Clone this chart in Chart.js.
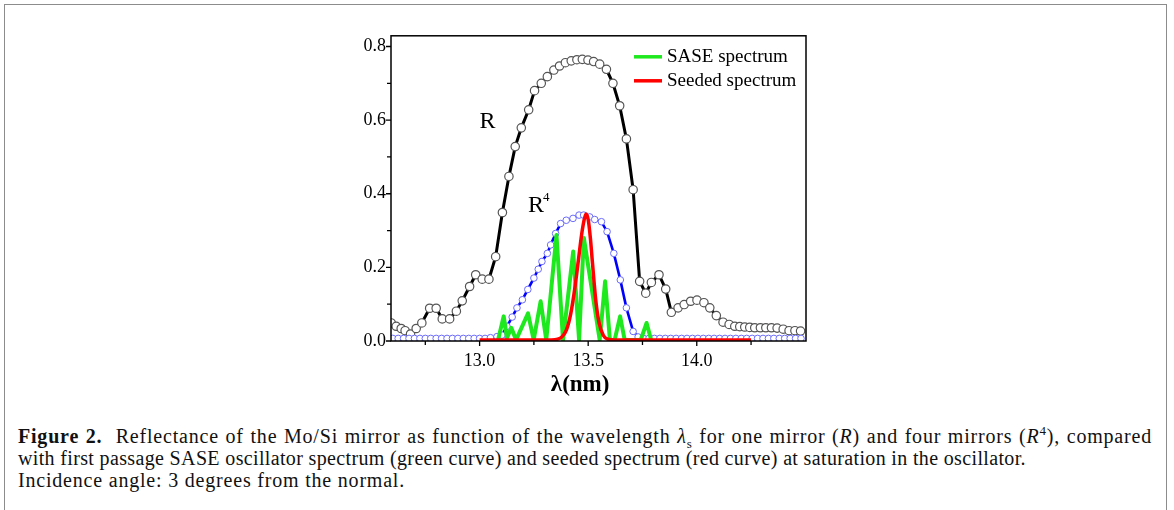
<!DOCTYPE html>
<html>
<head>
<meta charset="utf-8">
<script src="https://cdn.jsdelivr.net/npm/chart.js@4.4.1/dist/chart.umd.min.js"></script>
<style>
    html, body { margin: 0; padding: 0; background: #fff; }
    body { width: 1174px; height: 510px; overflow: hidden; position: relative; }
    #frame {
        position: absolute; left: 4px; top: 4px; width: 1161px; height: 600px;
        border: 1.5px solid #8c8c8c;
    }
    #plot { position: absolute; left: 330px; top: 20px; width: 500px; height: 385px; }
    #caption {
        position: absolute; left: 18px; top: 425px; width: 1134px;
        font-family: 'Liberation Serif', 'Times New Roman', serif;
        font-size: 20px; line-height: 22px; letter-spacing: 0.8px;
        color: #111;
    }
    #caption div { white-space: nowrap; }
    #caption .full { text-align: justify; text-align-last: justify; white-space: normal; }
    #caption .tight { letter-spacing: 0.35px; }
    #caption sub, #caption sup { font-size: 13px; line-height: 0; }
</style>
</head>
<body>
<div id="frame"></div>
<div id="plot"><canvas id="reflectance-chart"></canvas></div>
<div id="caption">
    <div class="full"><b>Figure 2.</b>&nbsp;&nbsp;Reflectance of the Mo/Si mirror as function of the wavelength <i>λ</i><sub>s</sub> for one mirror (<i>R</i>) and four mirrors (<i>R</i><sup>4</sup>), compared</div>
    <div class="tight">with first passage SASE oscillator spectrum (green curve) and seeded spectrum (red curve) at saturation in the oscillator.</div>
    <div>Incidence angle: 3 degrees from the normal.</div>
</div>

<script>
    'use strict';

    // Reflectance of one mirror (R)
    var rWavelength = [
        12.593, 12.616, 12.639, 12.657, 12.682, 12.708, 12.734, 12.770, 12.800, 12.828,
        12.862, 12.893, 12.920, 12.954, 12.982, 13.012, 13.043, 13.074, 13.105, 13.135,
        13.164, 13.192, 13.226, 13.253, 13.284, 13.312, 13.342, 13.368, 13.395, 13.422,
        13.448, 13.473, 13.499, 13.525, 13.553, 13.584, 13.614, 13.645, 13.676, 13.707,
        13.737, 13.765, 13.791, 13.826, 13.857, 13.883, 13.914, 13.942, 13.972, 14.001,
        14.033, 14.060, 14.090, 14.121, 14.149, 14.175, 14.198, 14.221, 14.244, 14.267,
        14.293, 14.318, 14.344, 14.370, 14.398, 14.425, 14.452, 14.478
    ];
    var rValues = [
        0.049, 0.040, 0.034, 0.028, 0.019, 0.034, 0.049, 0.089, 0.089, 0.060,
        0.060, 0.081, 0.109, 0.148, 0.180, 0.168, 0.168, 0.229, 0.349, 0.447,
        0.528, 0.579, 0.628, 0.680, 0.700, 0.718, 0.736, 0.747, 0.756, 0.761,
        0.764, 0.765, 0.763, 0.759, 0.752, 0.738, 0.700, 0.639, 0.549, 0.411,
        0.162, 0.130, 0.159, 0.180, 0.141, 0.078, 0.090, 0.099, 0.108, 0.111,
        0.104, 0.090, 0.069, 0.051, 0.045, 0.040, 0.039, 0.038, 0.037, 0.036,
        0.036, 0.036, 0.036, 0.035, 0.032, 0.028, 0.028, 0.027
    ];

    // Four mirrors (R^4)
    var r4Wavelength = [
        12.600, 12.625, 12.650, 12.675, 12.700, 12.725, 12.750, 12.775, 12.800, 12.825,
        12.850, 12.875, 12.900, 12.925, 12.950, 12.975, 13.000, 13.025, 13.050, 13.080,
        13.103, 13.126, 13.150, 13.172, 13.197, 13.222, 13.250, 13.270, 13.287, 13.312,
        13.327, 13.350, 13.373, 13.399, 13.430, 13.458, 13.479, 13.507, 13.530, 13.561,
        13.587, 13.618, 13.648, 13.676, 13.707, 13.730, 13.755, 13.780, 13.805, 13.830,
        13.855, 13.880, 13.905, 13.930, 13.955, 13.980, 14.005, 14.030, 14.055, 14.080,
        14.105, 14.130, 14.155, 14.180, 14.205, 14.230, 14.255, 14.280, 14.305, 14.330,
        14.355, 14.380, 14.405, 14.430, 14.455, 14.480
    ];
    var r4Values = [
        0.007, 0.007, 0.007, 0.007, 0.007, 0.007, 0.007, 0.007, 0.007, 0.007,
        0.007, 0.007, 0.007, 0.007, 0.007, 0.007, 0.007, 0.007, 0.009, 0.012,
        0.016, 0.040, 0.065, 0.090, 0.112, 0.140, 0.171, 0.195, 0.216, 0.238,
        0.261, 0.292, 0.319, 0.328, 0.333, 0.342, 0.342, 0.337, 0.330, 0.324,
        0.297, 0.238, 0.166, 0.090, 0.026, 0.011, 0.007, 0.007, 0.007, 0.007,
        0.007, 0.007, 0.007, 0.007, 0.007, 0.007, 0.007, 0.007, 0.007, 0.007,
        0.007, 0.007, 0.007, 0.007, 0.007, 0.007, 0.007, 0.007, 0.007, 0.007,
        0.007, 0.007, 0.007, 0.007, 0.007, 0.007
    ];

    // First passage SASE spectrum (green)
    var saseWavelength = [
        13.085, 13.111, 13.126, 13.146, 13.168, 13.223, 13.249, 13.281, 13.307, 13.354,
        13.384, 13.431, 13.458, 13.480, 13.553, 13.578, 13.600, 13.622, 13.647, 13.668,
        13.742, 13.769, 13.790
    ];
    var saseValues = [
        0.003, 0.067, 0.008, 0.036, 0.003, 0.075, 0.003, 0.108, 0.003, 0.288,
        0.003, 0.243, 0.003, 0.280, 0.003, 0.162, 0.003, 0.003, 0.067, 0.003,
        0.003, 0.049, 0.003
    ];

    // Seeded spectrum at saturation (red)
    var seededWavelength = [
        13.000, 13.330, 13.360, 13.380, 13.400, 13.420, 13.440, 13.455, 13.470, 13.480,
        13.490, 13.500, 13.510, 13.520, 13.535, 13.550, 13.570, 13.590, 13.620, 14.250
    ];
    var seededValues = [
        0.003, 0.003, 0.005, 0.012, 0.030, 0.075, 0.150, 0.220, 0.290, 0.325,
        0.345, 0.330, 0.280, 0.210, 0.110, 0.050, 0.015, 0.005, 0.003, 0.003
    ];

    // Axes
    var xTicks = [13.0, 13.5, 14.0];
    var xMinorTicks = [12.75, 13.25, 13.75, 14.25];
    var yTicks = [0.0, 0.2, 0.4, 0.6, 0.8];
    var yMinorTicks = [0.1, 0.3, 0.5, 0.7];

    var serif = "'Liberation Serif', 'Times New Roman', serif";

    function toPoints(xs, ys) {
        return xs.map(function(x, i) { return { x: x, y: ys[i] }; });
    }

    // Box, tick marks, curve labels, axis title and legend
    var figureDecor = {
        id: 'figureDecor',
        afterDatasetsDraw: function(chart) {
            var ctx = chart.ctx;
            var area = chart.chartArea;
            var xs = chart.scales.x;
            var ys = chart.scales.y;

            ctx.save();
            ctx.strokeStyle = '#000';
            ctx.lineWidth = 1.5;
            ctx.strokeRect(area.left, area.top, area.right - area.left, area.bottom - area.top);

            ctx.lineWidth = 1.3;
            ctx.beginPath();
            xTicks.concat(xMinorTicks).forEach(function(v) {
                var px = xs.getPixelForValue(v);
                ctx.moveTo(px, area.bottom);
                ctx.lineTo(px, area.bottom + (xTicks.indexOf(v) >= 0 ? 5 : 4));
            });
            yTicks.concat(yMinorTicks).forEach(function(v) {
                var py = ys.getPixelForValue(v);
                ctx.moveTo(area.left, py);
                ctx.lineTo(area.left - (yTicks.indexOf(v) >= 0 ? 5 : 4), py);
            });
            ctx.stroke();

            // Curve labels
            ctx.fillStyle = '#000';
            ctx.textBaseline = 'alphabetic';
            ctx.textAlign = 'left';
            ctx.font = '24px ' + serif;
            ctx.fillText('R', xs.getPixelForValue(13.0), ys.getPixelForValue(0.578));
            ctx.fillText('R', xs.getPixelForValue(13.223), ys.getPixelForValue(0.35));
            ctx.font = '13px ' + serif;
            ctx.fillText('4', xs.getPixelForValue(13.292), ys.getPixelForValue(0.38));

            // Axis title
            ctx.textAlign = 'center';
            ctx.font = 'bold 23px ' + serif;
            ctx.fillText('λ(nm)', xs.getPixelForValue(13.463), area.bottom + 50);

            // Legend
            var legend = [['SASE spectrum', '#1ee81e'], ['Seeded spectrum', '#ff0000']];
            ctx.textAlign = 'left';
            ctx.textBaseline = 'middle';
            ctx.font = '19px ' + serif;
            legend.forEach(function(item, i) {
                var y = area.top + 21 + i * 24;
                ctx.strokeStyle = item[1];
                ctx.lineWidth = 3.5;
                ctx.beginPath();
                ctx.moveTo(area.right - 172, y);
                ctx.lineTo(area.right - 144, y);
                ctx.stroke();
                ctx.fillStyle = '#000';
                ctx.fillText(item[0], area.right - 139, y);
            });
            ctx.restore();
        }
    };

    Chart.defaults.font.family = serif;
    Chart.defaults.color = '#000';

    new Chart(document.getElementById('reflectance-chart'), {
        type: 'line',
        data: {
            datasets: [
                {
                    label: 'R',
                    data: toPoints(rWavelength, rValues),
                    borderColor: '#000',
                    borderWidth: 3,
                    pointRadius: 4.2,
                    pointBorderWidth: 1.2,
                    pointBorderColor: '#555',
                    pointBackgroundColor: '#fff',
                    tension: 0,
                    order: 3
                },
                {
                    label: 'R4',
                    data: toPoints(r4Wavelength, r4Values),
                    borderColor: '#0000ff',
                    borderWidth: 2.6,
                    pointRadius: 3.3,
                    pointBorderWidth: 1,
                    pointBorderColor: '#6b6bff',
                    pointBackgroundColor: '#fff',
                    tension: 0,
                    order: 2
                },
                {
                    label: 'SASE spectrum',
                    data: toPoints(saseWavelength, saseValues),
                    borderColor: '#1ee81e',
                    borderWidth: 4,
                    borderJoinStyle: 'round',
                    pointRadius: 0,
                    tension: 0,
                    order: 1
                },
                {
                    label: 'Seeded spectrum',
                    data: toPoints(seededWavelength, seededValues),
                    borderColor: '#ff0000',
                    borderWidth: 3.5,
                    pointRadius: 0,
                    cubicInterpolationMode: 'monotone',
                    order: 0
                }
            ]
        },
        options: {
            responsive: true,
            maintainAspectRatio: false,
            animation: false,
            events: [],
            layout: { padding: { left: 0, top: 15, right: 24, bottom: 0 } },
            plugins: { legend: { display: false }, tooltip: { enabled: false } },
            scales: {
                x: {
                    type: 'linear',
                    min: 12.592,
                    max: 14.503,
                    grid: { display: false, drawTicks: false },
                    border: { display: false },
                    afterBuildTicks: function(scale) {
                        scale.ticks = xTicks.map(function(v) { return { value: v }; });
                    },
                    afterFit: function(scale) { scale.height = 64; },
                    ticks: {
                        padding: 9,
                        font: { size: 18 },
                        maxRotation: 0,
                        callback: function(v) { return v.toFixed(1); }
                    }
                },
                y: {
                    type: 'linear',
                    min: 0,
                    max: 0.829,
                    grid: { display: false, drawTicks: false },
                    border: { display: false },
                    afterBuildTicks: function(scale) {
                        scale.ticks = yTicks.map(function(v) { return { value: v }; });
                    },
                    afterFit: function(scale) { scale.width = 61; },
                    ticks: {
                        padding: 5,
                        font: { size: 18 },
                        callback: function(v) { return v.toFixed(1); }
                    }
                }
            }
        },
        plugins: [figureDecor]
    });
</script>
</body>
</html>
